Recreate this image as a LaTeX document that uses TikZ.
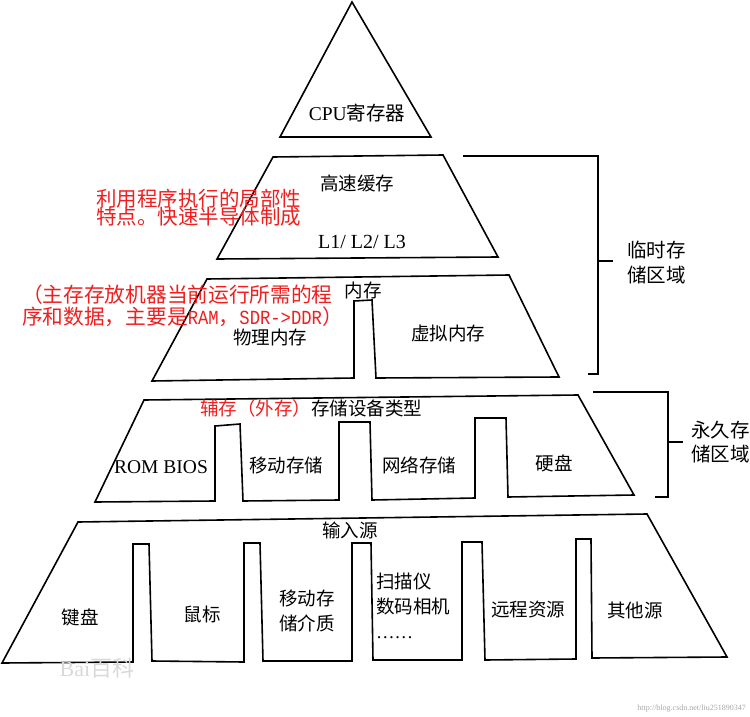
\documentclass[tikz,border=0pt]{standalone}
\usepackage{fontspec}
\setmainfont{Liberation Serif}
\newfontfamily\cjk{Noto Sans CJK SC}
\newfontfamily\monofam{Liberation Mono}
\definecolor{notered}{RGB}{240,30,30}
\newcommand\tightls{\lineskiplimit -20pt\relax}
\newcommand\halfw[1]{\scalebox{0.86}[1]{\monofam\fontsize{20}{22}\selectfont #1}}
\tikzset{
  level/.style={draw=black, line width=1.6pt, line join=miter},
  brk/.style={draw=black, line width=1.6pt},
  lbl/.style={font=\cjk\fontsize{18.5}{25}\selectfont, inner sep=0pt, align=center},
  side/.style={font=\cjk\fontsize{19.5}{24.5}\selectfont, inner sep=0pt, align=left, anchor=west},
  note/.style={text=notered, inner sep=0pt, align=left, anchor=west},
}
\begin{document}
\begin{tikzpicture}[x=1pt,y=-1pt]
\useasboundingbox (0,0) rectangle (750,717);

% ---- levels of the pyramid
\draw[level] (352,2) -- (431,137) -- (280,137) -- cycle;
\draw[level] (273,157) -- (443,155) -- (498,257) -- (217,259) -- cycle;
\draw[level] (207,279) -- (509,275) -- (559,377) -- (376,378) -- (372,300) -- (354,301)
  -- (354,378) -- (152,381) -- cycle;
\draw[level] (144,400) -- (578,395) -- (634,495) -- (508,497) -- (506,418) -- (475,418)
  -- (475,498) -- (372,500) -- (370,422) -- (339,422) -- (339,500) -- (243,501)
  -- (240,424) -- (215,426) -- (215,501) -- (95,502) -- cycle;
\draw[level] (78,522) -- (647,514) -- (727,657) -- (592,658) -- (591,539) -- (576,539)
  -- (576,659) -- (485,660) -- (482,542) -- (462,542) -- (462,660) -- (373,660)
  -- (371,543) -- (352,543) -- (352,661) -- (263,661) -- (260,543) -- (244,543)
  -- (244,662) -- (152,661) -- (149,544) -- (133,544) -- (133,662) -- (2,663) -- cycle;

% ---- labels
\node[lbl, font=\fontsize{19.5}{20}\selectfont] (cpu) at (357,113) {CPU{\cjk 寄存器}};
\node[lbl] (cache) at (357,183) {高速缓存};
\node[lbl, font=\fontsize{20}{20}\selectfont] (lvl) at (362,242) {L1/ L2/ L3};
\node[lbl] (mem) at (363,290) {内存};
\node[lbl] (phys) at (270,337) {物理内存};
\node[lbl] (virt) at (448,333) {虚拟内存};
\node[lbl, anchor=west] (aux) at (200,408) {{\color{notered}辅存（外存）}存储设备类型};
\node[lbl, font=\fontsize{19.5}{20}\selectfont] (rom) at (161,467) {ROM BIOS};
\node[lbl] (mov) at (286,465) {移动存储};
\node[lbl] (net) at (419,465) {网络存储};
\node[lbl] (hdd) at (554,463) {硬盘};
\node[lbl] (inp) at (350,530) {输入源};
\node[lbl] (kbd) at (80,617) {键盘};
\node[lbl] (mouse) at (202,614) {鼠标};
\node[lbl] (media) at (307,611) {移动存\\储介质};
\node[lbl, align=left, anchor=north west] (scan) at (376,573) {扫描仪\\数码相机\\{\rmfamily ……}};
\node[lbl] (remote) at (528,610) {远程资源};
\node[lbl] (other) at (635,610) {其他源};

% ---- red notes
\node[note, font=\cjk\fontsize{20.5}{18.5}\selectfont\tightls] (note1) at (96,207.5)
  {利用程序执行的局部性\\特点。快速半导体制成};
\node[note, font=\cjk\fontsize{20.7}{22}\selectfont\tightls] (note2) at (22,305.5)
  {（主存存放机器当前运行所需的程\\序和数据，主要是\halfw{RAM}，\halfw{SDR->DDR}）};

% ---- brackets
\coordinate (t1) at (463,156); \coordinate (t2) at (598,156);
\coordinate (t3) at (598,374); \coordinate (t4) at (588,374);
\coordinate (tm) at (598,261); \coordinate (te) at (613,261);
\draw[brk] (t1) -- (t2) -- (t3) -- (t4);
\draw[brk] (tm) -- (te);
\node[side] (temp) at (627,262.5) {临时存\\储区域};

\coordinate (p1) at (593,392); \coordinate (p2) at (668,392);
\coordinate (p3) at (668,497); \coordinate (p4) at (655,497);
\coordinate (pm) at (668,442); \coordinate (pe) at (683,442);
\draw[brk] (p1) -- (p2) -- (p3) -- (p4);
\draw[brk] (pm) -- (pe);
\node[side] (perm) at (691,442) {永久存\\储区域};

% ---- watermarks
\node[text=black!15, inner sep=0pt, font=\fontsize{22}{22}\selectfont] (bwm) at (97,668) {Bai{\cjk 百科}};
\node[text=black!35, inner sep=0pt, anchor=east, font=\fontsize{8}{8}\selectfont] (wm) at (746,709)
  {http://blog.csdn.net/liu251890347};
\end{tikzpicture}
\end{document}
